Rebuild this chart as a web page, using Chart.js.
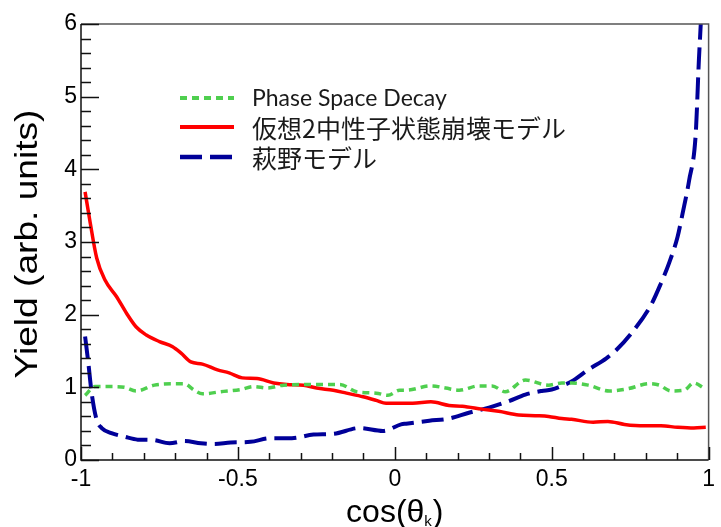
<!DOCTYPE html>
<html>
<head>
<meta charset="utf-8">
<script src="https://cdn.jsdelivr.net/npm/chart.js@4"></script>
<style>
html,body{margin:0;padding:0;background:#fff;}
#wrap{width:721px;height:527px;}
</style>
</head>
<body>
<div id="wrap"><canvas id="c" width="721" height="527"></canvas></div>
<script>
// ---- Data ----
const seriesLabels = ["Phase Space Decay", "仮想2中性子状態崩壊モデル", "萩野モデル"];

const phaseX = [-0.987,-0.956,-0.903,-0.861,-0.824,-0.766,-0.703,-0.671,-0.639,-0.613,-0.555,-0.491,-0.449,-0.407,-0.354,-0.249,-0.175,-0.122,-0.059,-0.022,0.015,0.036,0.115,0.162,0.205,0.268,0.31,0.352,0.416,0.49,0.532,0.563,0.616,0.684,0.742,0.811,0.843,0.880,0.922,0.953,0.985];
const phaseY = [0.89,1.01,1.01,1.00,0.95,1.03,1.05,1.05,0.96,0.91,0.94,0.97,1.01,0.99,1.03,1.04,1.04,0.94,0.92,0.89,0.96,0.96,1.02,0.99,0.96,1.02,1.02,0.94,1.10,1.03,1.06,1.06,1.03,0.95,0.98,1.05,1.03,0.95,0.96,1.06,0.99];

const dineutronX = [-0.987,-0.972,-0.95,-0.924,-0.887,-0.855,-0.824,-0.792,-0.75,-0.708,-0.681,-0.65,-0.613,-0.565,-0.528,-0.486,-0.439,-0.386,-0.344,-0.291,-0.249,-0.196,-0.154,-0.101,-0.059,-0.028,0.02,0.057,0.115,0.173,0.215,0.278,0.331,0.395,0.447,0.49,0.532,0.563,0.632,0.679,0.732,0.795,0.848,0.901,0.953,0.991];
const dineutronY = [3.69,3.30,2.78,2.48,2.25,2.02,1.83,1.72,1.63,1.56,1.47,1.35,1.32,1.24,1.20,1.13,1.12,1.06,1.04,1.03,0.99,0.96,0.92,0.87,0.82,0.78,0.78,0.78,0.80,0.75,0.74,0.70,0.67,0.62,0.61,0.60,0.57,0.56,0.52,0.53,0.49,0.47,0.47,0.45,0.44,0.45];

const haginoX = [-0.987,-0.977,-0.966,-0.95,-0.934,-0.903,-0.861,-0.819,-0.771,-0.718,-0.671,-0.618,-0.576,-0.523,-0.46,-0.396,-0.328,-0.259,-0.196,-0.112,-0.038,0.02,0.036,0.11,0.173,0.236,0.30,0.363,0.416,0.468,0.5,0.532,0.563,0.616,0.674,0.70,0.753,0.816,0.848,0.874,0.901,0.917,0.938,0.959,0.969,0.975,0.985];
const haginoY = [1.70,1.35,0.92,0.55,0.44,0.37,0.32,0.28,0.275,0.23,0.26,0.23,0.22,0.24,0.25,0.30,0.30,0.35,0.36,0.44,0.40,0.49,0.50,0.54,0.57,0.65,0.72,0.81,0.90,0.95,0.97,1.02,1.08,1.24,1.40,1.49,1.74,2.13,2.43,2.71,3.07,3.39,3.85,4.49,5.50,6.00,7.00];

const xTickValues = [-1, -0.5, 0, 0.5, 1];
const yTickValues = [0, 1, 2, 3, 4, 5, 6];

const toPts = (xs, ys) => xs.map((x, i) => ({x: x, y: ys[i]}));

// ---- Plugin: frame, inward ticks, axis titles, legend ----
const decor = {
  id: 'decor',
  afterDraw(chart) {
    const ctx = chart.ctx, a = chart.chartArea;
    const xs = chart.scales.x, ys = chart.scales.y;
    ctx.save();
    // frame
    ctx.lineWidth = 1.5;
    ctx.strokeStyle = '#555';
    ctx.beginPath();
    ctx.moveTo(a.left, a.top); ctx.lineTo(a.right, a.top); ctx.lineTo(a.right, a.bottom);
    ctx.stroke();
    ctx.strokeStyle = '#111';
    ctx.beginPath();
    ctx.moveTo(a.left, a.top); ctx.lineTo(a.left, a.bottom); ctx.lineTo(a.right, a.bottom);
    ctx.stroke();
    // ticks (inward)
    ctx.lineWidth = 1.5;
    ctx.beginPath();
    for (let i = 0; i <= 30; i++) {
      const v = i * 0.2;
      const p = Math.round(ys.getPixelForValue(v)) + 0.5;
      const len = (i % 5 === 0) ? 18 : 10;
      ctx.moveTo(a.left, p); ctx.lineTo(a.left + len, p);
    }
    for (let i = 0; i <= 20; i++) {
      const v = -1 + i * 0.1;
      const p = Math.round(xs.getPixelForValue(v)) + 0.5;
      const len = (i % 5 === 0) ? 13 : 7;
      ctx.moveTo(p, a.bottom); ctx.lineTo(p, a.bottom - len);
    }
    ctx.stroke();

    // y title
    ctx.fillStyle = '#000';
    ctx.save();
    ctx.translate(37, (a.top + a.bottom) / 2 + 2);
    ctx.rotate(-Math.PI / 2);
    ctx.scale(1.16, 1);
    ctx.font = '32px "Liberation Sans", Arial, sans-serif';
    ctx.textAlign = 'center';
    ctx.textBaseline = 'alphabetic';
    ctx.fillText('Yield (arb. units)', 0, 0);
    ctx.restore();

    // x title: cos(θ_k)
    const main1 = 'cos(θ', sub = 'k', main2 = ')';
    const fMain = '32px "Liberation Sans", Arial, sans-serif';
    const fSub = '15px "Liberation Sans", Arial, sans-serif';
    ctx.font = fMain; const w1 = ctx.measureText(main1).width, w3 = ctx.measureText(main2).width;
    ctx.font = fSub; const w2 = ctx.measureText(sub).width;
    const total = w1 + w2 + 1 + w3;
    let x0 = xs.getPixelForValue(0) - total / 2;
    const base = 522;
    ctx.textAlign = 'left'; ctx.textBaseline = 'alphabetic';
    ctx.font = fMain; ctx.fillText(main1, x0, base);
    ctx.font = fSub; ctx.fillText(sub, x0 + w1, base + 4);
    ctx.font = fMain; ctx.fillText(main2, x0 + w1 + w2 + 1, base);

    // legend
    const rows = [98, 127, 157];
    const fonts = ['23px Lato, "Noto Sans CJK JP", sans-serif', '25px "Noto Sans CJK JP", sans-serif', '25px "Noto Sans CJK JP", sans-serif'];
    chart.data.datasets.forEach((ds, i) => {
      const y = rows[i];
      ctx.save();
      ctx.strokeStyle = ds.borderColor;
      ctx.lineWidth = ds.borderWidth + 0.5;
      ctx.setLineDash(ds.borderDash || []);
      ctx.beginPath(); ctx.moveTo(180, y); ctx.lineTo(234, y); ctx.stroke();
      ctx.restore();
      ctx.fillStyle = '#1a1a1a';
      ctx.font = fonts[i];
      ctx.textAlign = 'left'; ctx.textBaseline = 'middle';
      ctx.fillText(ds.label, 252, y + 1);
    });
    ctx.restore();
  }
};

new Chart(document.getElementById('c'), {
  type: 'line',
  data: {
    datasets: [
      { label: seriesLabels[0], data: toPts(phaseX, phaseY), borderColor: '#4fcf4f', borderWidth: 3.5, borderDash: [7, 5], pointRadius: 0, cubicInterpolationMode: 'monotone', fill: false },
      { label: seriesLabels[1], data: toPts(dineutronX, dineutronY), borderColor: '#ff0000', borderWidth: 3.5, pointRadius: 0, cubicInterpolationMode: 'monotone', fill: false },
      { label: seriesLabels[2], data: toPts(haginoX, haginoY), borderColor: '#000099', borderWidth: 4, borderDash: [22, 8], pointRadius: 0, cubicInterpolationMode: 'monotone', fill: false }
    ]
  },
  options: {
    responsive: false,
    animation: false,
    devicePixelRatio: 1,
    layout: { padding: { top: 24, right: 8, left: 0, bottom: 0 } },
    plugins: { legend: { display: false }, tooltip: { enabled: false } },
    scales: {
      x: {
        type: 'linear', min: -1, max: 1,
        afterFit: s => { s.height = 67; },
        afterBuildTicks: s => { s.ticks = xTickValues.map(v => ({ value: v })); },
        grid: { display: false, drawTicks: false },
        border: { display: false },
        ticks: { padding: 6, color: '#000', font: { family: '"Liberation Sans", Arial, sans-serif', size: 23 }, callback: v => String(v), maxRotation: 0 }
      },
      y: {
        type: 'linear', min: 0, max: 6,
        afterFit: s => { s.width = 81; },
        afterBuildTicks: s => { s.ticks = yTickValues.map(v => ({ value: v })); },
        grid: { display: false, drawTicks: false },
        border: { display: false },
        ticks: { padding: 4, color: '#000', font: { family: '"Liberation Sans", Arial, sans-serif', size: 23 }, callback: v => String(v) }
      }
    }
  },
  plugins: [decor]
});
</script>
</body>
</html>
